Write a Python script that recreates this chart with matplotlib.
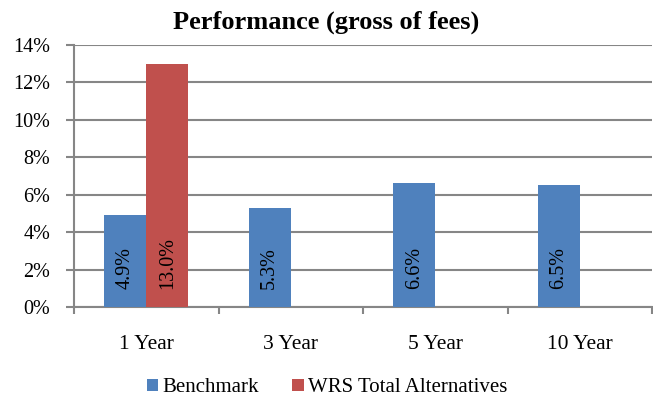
import matplotlib
matplotlib.use("Agg")
import matplotlib.pyplot as plt
import numpy as np

categories = ["1 Year", "3 Year", "5 Year", "10 Year"]
benchmark = [4.9, 5.3, 6.6, 6.5]
wrs_alt = [13.0, None, None, None]
series_names = ["Benchmark", "WRS Total Alternatives"]
yticks = [0, 2, 4, 6, 8, 10, 12, 14]
title = "Performance (gross of fees)"

plt.rcParams['font.family'] = ['Liberation Serif', 'DejaVu Serif']

fig = plt.figure(figsize=(6.53, 4.01), dpi=100)
ax = fig.add_axes([74/653, 1-307/401, (652-74)/653, (307-45)/401])

blue = "#4F81BD"
red = "#C0504D"
grid = "#868686"
x = np.arange(len(categories))
w = 0.292

bb = ax.bar(x - w/2, benchmark, w, color=blue, zorder=3, label=series_names[0])
rv = [v if v is not None else 0 for v in wrs_alt]
rb = ax.bar(x + w/2, rv, w, color=red, zorder=3, label=series_names[1])
for i, v in enumerate(wrs_alt):
    if v is None:
        rb[i].set_visible(False)

for xi, v in zip(x - w/2, benchmark):
    ax.text(xi, 0.95, f"{v:.1f}%", rotation=90, ha='center', va='bottom', fontsize=14.5, zorder=4)
for xi, v in zip(x + w/2, wrs_alt):
    if v is not None:
        ax.text(xi, 0.95, f"{v:.1f}%", rotation=90, ha='center', va='bottom', fontsize=14.5, zorder=4)

ax.set_ylim(0, 14)
ax.set_xlim(-0.5, len(categories) - 0.5)
ax.set_yticks(yticks)
ax.set_yticklabels([f"{t}%" for t in yticks], fontsize=14.5)
ax.yaxis.grid(True, color=grid, linewidth=1.5, zorder=0)
ax.set_xticks(x)
ax.set_xticklabels(categories, fontsize=15.5)
ax.tick_params(axis='x', length=0, pad=20)
ax.set_xticks(np.arange(len(categories) + 1) - 0.5, minor=True)
ax.tick_params(axis='x', which='minor', length=5, width=1.5, color=grid)
ax.tick_params(axis='y', length=6, width=1.5, color=grid, pad=11)

for s in ['top', 'right']:
    ax.spines[s].set_visible(False)
for s in ['left', 'bottom']:
    ax.spines[s].set_color(grid)
    ax.spines[s].set_linewidth(1.5)

fig.text(326.5/653, 1-22/401, title, fontsize=19, fontweight='bold', ha='center', va='center')

leg = fig.legend(handles=[bb, rb], labels=series_names, loc='center', bbox_to_anchor=(327/653, 1-388/401),
                 ncol=2, frameon=False, fontsize=15, handlelength=0.55, handleheight=0.55,
                 handletextpad=0.2, columnspacing=1.6)

fig.savefig("out.png", dpi=100)
